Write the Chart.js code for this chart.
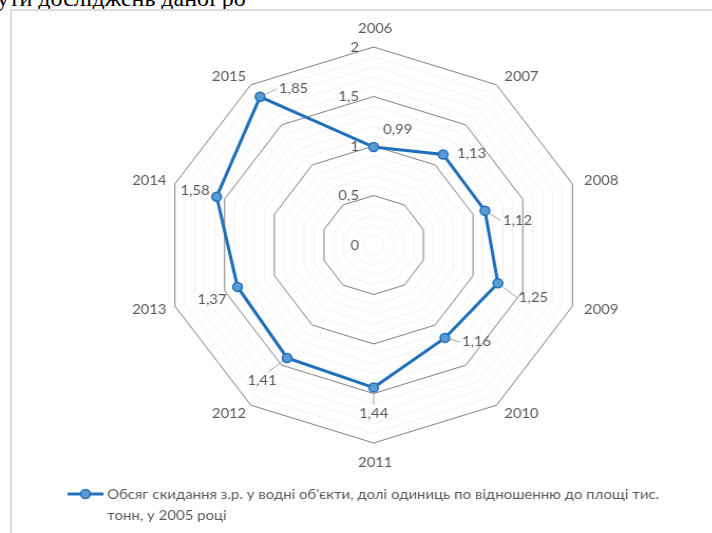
<!DOCTYPE html>
<html>
<head>
<meta charset="utf-8">
<script src="https://cdn.jsdelivr.net/npm/chart.js@4.4.1/dist/chart.umd.min.js"></script>
<style>
  html, body { margin: 0; padding: 0; background: #fff; width: 712px; height: 533px; overflow: hidden; }
  #toptext { position: absolute; left: -3px; top: -14px; font-family: "Liberation Serif", "DejaVu Serif", serif; font-size: 24px; line-height: 24px; color: #000; white-space: nowrap; }
  #frame { position: absolute; left: 10px; top: 9px; width: 800px; height: 600px; border-left: 2px solid #dcdcdc; border-top: 2px solid #dcdcdc; }
  #wrap { position: absolute; left: 0; top: 0; height: 533px; transform-origin: 0 0; }
</style>
</head>
<body>
<div id="toptext">ути досліджень даної ро</div>
<div id="frame"></div>
<div id="wrap"><canvas id="c"></canvas></div>
<script>
// ---- data ----
const categories = ['2006','2007','2008','2009','2010','2011','2012','2013','2014','2015'];
const values = [0.99, 1.13, 1.12, 1.25, 1.16, 1.44, 1.41, 1.37, 1.58, 1.85];
const valueLabels = ['0,99','1,13','1,12','1,25','1,16','1,44','1,41','1,37','1,58','1,85'];
const tickValues = [0, 0.5, 1, 1.5, 2];
const tickLabels = ['0','0,5','1','1,5','2'];
const seriesName = ['Обсяг скидання з.р. у водні об\'єкти, долі одиниць по відношенню до площі тис.', 'тонн, у 2005 році'];

// ---- layout / style ----
const SX = 1.054;               // horizontal stretch of the reference picture
const W0 = 712 / SX;
const wrap = document.getElementById('wrap');
wrap.style.width = W0 + 'px';
wrap.style.transform = 'scaleX(' + SX + ')';

const FONT = 'Lato, "Open Sans", "Noto Sans", sans-serif';
const TXT = '#595959';
// label placement relative to the point (page px): dx, dy, align, leader
const labelPlace = [
  [24, -18, 'center', false],
  [14, -1, 'left', false],
  [18, 10, 'left', true],
  [21, 14, 'left', true],
  [17, 4, 'left', true],
  [0, 26, 'center', true],
  [-25, 23, 'center', true],
  [-11, 13, 'right', false],
  [-7, -6, 'right', false],
  [19, -8, 'left', true]
];

const overlay = {
  id: 'overlay',
  afterDatasetsDraw(chart) {
    const ctx = chart.ctx;
    const s = chart.scales.r;
    const R = s.drawingArea;
    ctx.save();
    ctx.fillStyle = TXT;
    ctx.font = '14px ' + FONT;

    // tick labels
    ctx.textAlign = 'right';
    ctx.textBaseline = 'middle';
    tickValues.forEach((v, i) => {
      const d = s.getDistanceFromCenterForValue(v);
      ctx.fillText(tickLabels[i], s.xCenter - 14, s.yCenter - d);
    });

    // category labels
    categories.forEach((c, i) => {
      const a = s.getIndexAngle(i) - Math.PI / 2;
      const cx = Math.cos(a), sy = Math.sin(a);
      const side = Math.abs(cx) >= 0.1;
      const p = s.getPointPosition(i, R + (side ? 10 : 12));
      ctx.textAlign = !side ? 'center' : (cx > 0 ? 'left' : 'right');
      ctx.textBaseline = !side ? (sy < 0 ? 'bottom' : 'top') : 'middle';
      ctx.fillText(c, p.x + 1.5, p.y);
    });

    // data labels with leader lines
    const meta = chart.getDatasetMeta(0);
    meta.data.forEach((pt, i) => {
      const [dx, dy, al, leader] = labelPlace[i];
      const lx = pt.x + dx / SX, ly = pt.y + dy;
      if (leader) {
        ctx.strokeStyle = '#a6a6a6';
        ctx.lineWidth = 1;
        ctx.beginPath();
        let ex, ey;
        if (al === 'left') { ex = lx - 2; ey = ly; }
        else if (al === 'right') { ex = lx + 2; ey = ly; }
        else { ex = lx + (dx > 0 ? -10 : (dx < 0 ? 6 : 0)); ey = ly + (dy > 0 ? -9 : 9); }
        const vx = ex - pt.x, vy = ey - pt.y, L = Math.hypot(vx, vy) || 1;
        ctx.moveTo(pt.x + vx / L * 5, pt.y + vy / L * 5);
        ctx.lineTo(ex, ey);
        ctx.stroke();
      }
      ctx.textAlign = al;
      ctx.textBaseline = 'middle';
      ctx.fillText(valueLabels[i], lx, ly);
    });

    // legend
    const ly0 = 494;
    ctx.strokeStyle = '#2472bd';
    ctx.lineWidth = 3;
    ctx.beginPath();
    ctx.moveTo(64, ly0); ctx.lineTo(98, ly0);
    ctx.stroke();
    ctx.beginPath();
    ctx.arc(81, ly0, 4.5, 0, Math.PI * 2);
    ctx.fillStyle = '#5b9bd5';
    ctx.fill();
    ctx.lineWidth = 1.5;
    ctx.stroke();
    ctx.fillStyle = TXT;
    ctx.font = '14.2px ' + FONT;
    ctx.textAlign = 'left';
    ctx.textBaseline = 'middle';
    ctx.fillText(seriesName[0], 101.5, ly0);
    ctx.fillText(seriesName[1], 101.5, ly0 + 21);
    ctx.restore();
  }
};

const cxPre = 373.5 / SX;
const padLeft = 100;
const padRight = W0 - padLeft - 2 * (cxPre - padLeft);

new Chart(document.getElementById('c'), {
  type: 'radar',
  data: {
    labels: categories,
    datasets: [{
      label: seriesName.join(' '),
      data: values,
      borderColor: '#1f6fba',
      borderWidth: 3,
      pointRadius: 4.5,
      pointBackgroundColor: '#5b9bd5',
      pointBorderColor: '#1f6fba',
      pointBorderWidth: 1.5,
      fill: false,
      tension: 0
    }]
  },
  options: {
    responsive: true,
    maintainAspectRatio: false,
    animation: false,
    layout: { padding: { top: 47, bottom: 90, left: padLeft, right: padRight } },
    plugins: { legend: { display: false }, tooltip: { enabled: false } },
    scales: {
      r: {
        min: 0, max: 2,
        ticks: { display: false, stepSize: 0.1 },
        pointLabels: { display: false },
        angleLines: { display: false },
        grid: {
          circular: false,
          lineWidth: 1,
          color: (c) => (Math.round(c.tick.value * 10) % 5 === 0) ? '#7f7f7f' : '#f1f1f1'
        }
      }
    }
  },
  plugins: [overlay]
});
</script>
</body>
</html>
